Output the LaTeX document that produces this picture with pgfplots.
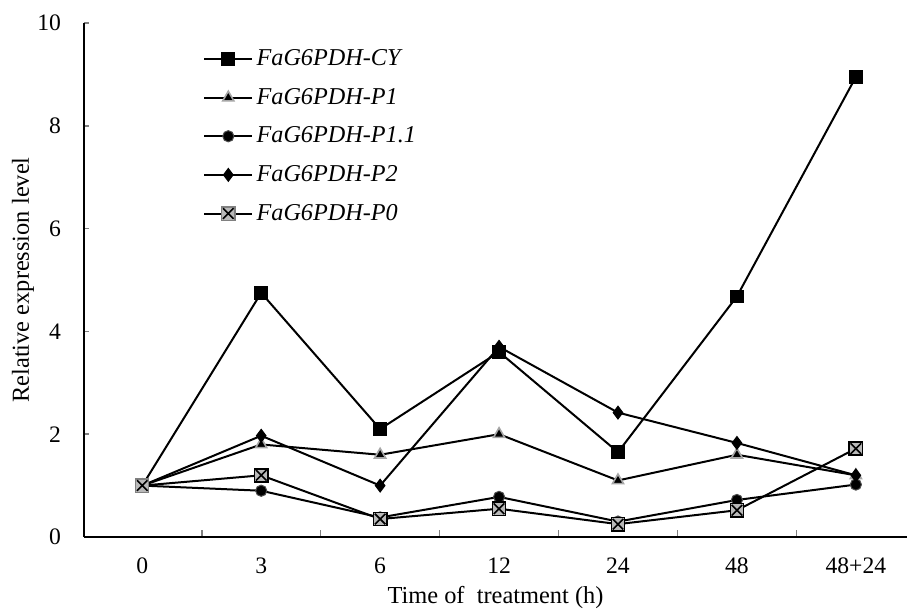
\documentclass[border=0pt]{standalone}
\usepackage{fontspec}
\setmainfont{Liberation Serif}
\usepackage{pgfplots}
\pgfplotsset{compat=1.18}
\pgfdeclareplotmark{sqx}{%
  \pgfpathrectangle{\pgfqpoint{-\pgfplotmarksize}{-\pgfplotmarksize}}{\pgfqpoint{2\pgfplotmarksize}{2\pgfplotmarksize}}%
  \pgfusepathqfillstroke
  \pgfsetstrokecolor{black}%
  \pgfsetlinewidth{0.8pt}%
  \pgfpathmoveto{\pgfqpoint{-0.8\pgfplotmarksize}{-0.8\pgfplotmarksize}}\pgfpathlineto{\pgfqpoint{0.8\pgfplotmarksize}{0.8\pgfplotmarksize}}%
  \pgfpathmoveto{\pgfqpoint{-0.8\pgfplotmarksize}{0.8\pgfplotmarksize}}\pgfpathlineto{\pgfqpoint{0.8\pgfplotmarksize}{-0.8\pgfplotmarksize}}%
  \pgfusepathqstroke
}
\begin{document}
\begin{tikzpicture}
\useasboundingbox (-42pt,-36pt) rectangle (411.5pt,268.5pt);
\begin{axis}[
  at={(0,0)}, anchor=south west,
  scale only axis, width=411.5pt, height=257pt,
  xmin=-0.49, xmax=6.43, ymin=0, ymax=10,
  axis x line*=bottom, axis y line*=left,
  axis line style={-, line width=0.9pt},
  xtick={0,1,2,3,4,5,6},
  xticklabels={0,3,6,12,24,48,48+24},
  major x tick style={draw=none},
  minor xtick={0.5,1.5,2.5,3.5,4.5,5.5},
  minor tick length=3.5pt,
  minor x tick style={line width=0.8pt},
  ytick={0,2,4,6,8,10},
  major tick length=2.5pt,
  major y tick style={line width=0.8pt},
  tick align=inside,
  /pgf/number format/assume math mode=true,
  ticklabel style={font=\fontsize{11.8}{13}\selectfont},
  xticklabel style={yshift=-7pt},
  yticklabel style={xshift=-8pt},
  xlabel={Time of\ \ treatment (h)},
  ylabel={Relative expression level},
  every axis x label/.style={at={(rel axis cs:0.5,0)}, anchor=center, yshift=-30.5pt, font=\fontsize{12.2}{14}\selectfont},
  every axis y label/.style={at={(rel axis cs:0,0.5)}, rotate=90, anchor=center, yshift=30.5pt, font=\fontsize{12.2}{14}\selectfont},
  legend style={at={(0.1446,0.957)}, anchor=north west, draw=none, fill=none,
    inner sep=0pt, font=\fontsize{12.1}{14.5}\itshape, row sep=5.8pt,
    cells={anchor=west}},
  legend image code/.code={\draw[mark repeat=2,mark phase=2] plot coordinates {(0cm,0cm) (0.42cm,0cm) (0.83cm,0cm)};},
  every axis plot/.append style={black, line width=1pt},
]
\addplot[mark=square*, mark size=3.2pt, mark options={fill=black, draw=black, line width=0.5pt}]
  coordinates {(0,1.0) (1,4.75) (2,2.1) (3,3.6) (4,1.65) (5,4.68) (6,8.95)};
\addlegendentry{FaG6PDH-CY}
\addplot[mark=triangle*, mark size=3.2pt, mark options={fill=black, draw=gray!70, line width=0.8pt}]
  coordinates {(0,1.0) (1,1.8) (2,1.6) (3,2.0) (4,1.1) (5,1.6) (6,1.2)};
\addlegendentry{FaG6PDH-P1}
\addplot[mark=*, mark size=2.8pt, mark options={fill=black, draw=black!70, line width=0.5pt}]
  coordinates {(0,1.0) (1,0.9) (2,0.38) (3,0.78) (4,0.3) (5,0.72) (6,1.02)};
\addlegendentry{FaG6PDH-P1.1}
\addplot[mark=diamond*, mark size=3.2pt, mark options={fill=black, draw=black, line width=0.5pt}]
  coordinates {(0,1.0) (1,1.97) (2,1.0) (3,3.7) (4,2.42) (5,1.83) (6,1.2)};
\addlegendentry{FaG6PDH-P2}
\addplot[mark=sqx, mark size=3.3pt, mark options={fill=gray!55, draw=gray, line width=0.6pt}]
  coordinates {(0,1.0) (1,1.2) (2,0.35) (3,0.55) (4,0.25) (5,0.52) (6,1.72)};
\addlegendentry{FaG6PDH-P0}
\end{axis}
\end{tikzpicture}
\end{document}
